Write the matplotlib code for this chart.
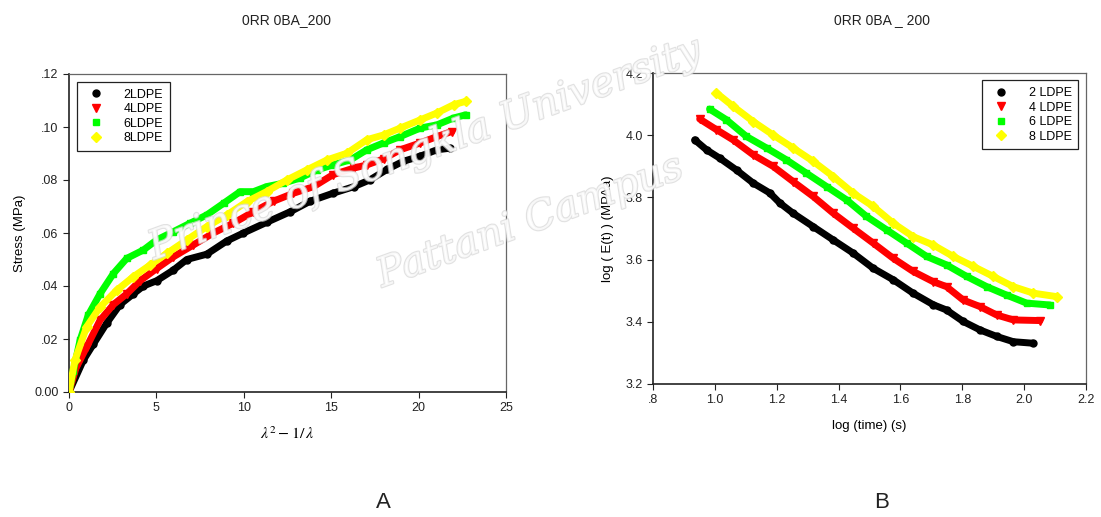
import matplotlib
matplotlib.use("Agg")
import matplotlib.pyplot as plt
import matplotlib.patheffects as pe
from matplotlib.ticker import FuncFormatter

plt.rcParams['font.family'] = ['Liberation Sans', 'DejaVu Sans']
plt.rcParams['mathtext.fontset'] = 'stix'

# ---- Panel A data: stress vs lambda^2 - 1/lambda ----
a_labels = ["2LDPE", "4LDPE", "6LDPE", "8LDPE"]
a_x_2 = [0, 0.82, 1.39, 2.16, 2.92, 3.68, 4.26, 5.02, 5.97, 6.74, 7.88, 9.03, 9.98, 11.3, 12.65, 13.8, 15.1, 16.3, 17.2, 18.2, 19.1, 20.1, 21.05, 21.8]
a_y_2 = [0, 0.012, 0.018, 0.026, 0.033, 0.037, 0.040, 0.042, 0.046, 0.050, 0.052, 0.057, 0.060, 0.064, 0.068, 0.072, 0.075, 0.0775, 0.080, 0.084, 0.087, 0.089, 0.0914, 0.092]
a_x_4 = [0, 0.4, 1.01, 1.77, 2.54, 3.3, 4.07, 5.02, 5.97, 7.12, 8.26, 9.4, 10.55, 11.7, 12.84, 13.99, 15.1, 16.3, 17.04, 18.0, 18.95, 20.1, 21.05, 21.9]
a_y_4 = [0, 0.009, 0.017, 0.027, 0.033, 0.037, 0.042, 0.0466, 0.051, 0.0555, 0.060, 0.0637, 0.068, 0.072, 0.075, 0.0775, 0.082, 0.0845, 0.0857, 0.088, 0.0914, 0.094, 0.0964, 0.0983]
a_x_6 = [0, 0.25, 0.63, 1.1, 1.77, 2.54, 3.3, 4.26, 5.02, 5.97, 6.93, 7.88, 8.84, 9.79, 10.55, 11.3, 12.27, 13.2, 14.2, 15.1, 16.1, 17.04, 18.0, 18.95, 20.1, 21.05, 22.0, 22.7]
a_y_6 = [0, 0.008, 0.0195, 0.029, 0.037, 0.0447, 0.0504, 0.0536, 0.0574, 0.0605, 0.0637, 0.0668, 0.0712, 0.0756, 0.0756, 0.0775, 0.0788, 0.0807, 0.0838, 0.0857, 0.0876, 0.0914, 0.094, 0.0964, 0.0996, 0.1008, 0.1034, 0.1046]
a_x_8 = [0, 0.34, 1.01, 1.77, 2.73, 3.68, 4.64, 5.6, 6.74, 7.88, 9.03, 10.17, 11.3, 12.46, 13.6, 14.77, 15.9, 17.04, 18.0, 18.95, 20.1, 21.05, 22.0, 22.7]
a_y_8 = [0, 0.012, 0.0246, 0.032, 0.0384, 0.0435, 0.0479, 0.0523, 0.0574, 0.0624, 0.0668, 0.0718, 0.0756, 0.080, 0.0838, 0.0876, 0.0901, 0.0952, 0.097, 0.0996, 0.1027, 0.1053, 0.1084, 0.1097]

# ---- Panel B data: log E(t) vs log time ----
b_labels = ["2 LDPE", "4 LDPE", "6 LDPE", "8 LDPE"]
b_x_2 = [0.935, 0.973, 1.016, 1.07, 1.124, 1.178, 1.21, 1.253, 1.318, 1.383, 1.447, 1.512, 1.577, 1.641, 1.706, 1.749, 1.803, 1.857, 1.911, 1.965, 2.03]
b_y_2 = [3.985, 3.953, 3.926, 3.888, 3.846, 3.814, 3.782, 3.749, 3.706, 3.663, 3.621, 3.572, 3.535, 3.492, 3.455, 3.438, 3.401, 3.374, 3.353, 3.336, 3.331]
b_x_4 = [0.951, 1.005, 1.059, 1.124, 1.188, 1.253, 1.318, 1.383, 1.447, 1.512, 1.577, 1.641, 1.706, 1.749, 1.803, 1.857, 1.911, 1.965, 2.051]
b_y_4 = [4.052, 4.018, 3.985, 3.937, 3.900, 3.851, 3.803, 3.749, 3.701, 3.653, 3.604, 3.562, 3.529, 3.513, 3.470, 3.449, 3.422, 3.406, 3.404]
b_x_6 = [0.983, 1.037, 1.102, 1.167, 1.231, 1.296, 1.361, 1.426, 1.49, 1.555, 1.62, 1.685, 1.749, 1.814, 1.879, 1.943, 2.008, 2.084]
b_y_6 = [4.084, 4.050, 3.996, 3.959, 3.921, 3.878, 3.835, 3.792, 3.739, 3.696, 3.653, 3.610, 3.583, 3.546, 3.513, 3.486, 3.460, 3.454]
b_x_8 = [1.005, 1.059, 1.124, 1.188, 1.253, 1.318, 1.383, 1.447, 1.512, 1.577, 1.641, 1.706, 1.771, 1.836, 1.9, 1.965, 2.03, 2.105]
b_y_8 = [4.136, 4.093, 4.044, 4.001, 3.959, 3.916, 3.867, 3.814, 3.771, 3.717, 3.674, 3.647, 3.610, 3.578, 3.546, 3.513, 3.492, 3.481]

colors = ["#000000", "#ff0000", "#00ff00", "#ffff00"]
markers = ["o", "v", "s", "D"]
msizes = [5, 6, 5, 5]

W, H = 1101, 517
fig = plt.figure(figsize=(W / 100, H / 100), dpi=100)

def style_axes(ax):
    for s in ["left", "bottom"]:
        ax.spines[s].set_color("#222222")
        ax.spines[s].set_linewidth(1.2)
    for s in ["top", "right"]:
        ax.spines[s].set_color("#666666")
        ax.spines[s].set_linewidth(0.9)
    ax.tick_params(direction="out", length=4, width=0.8, labelsize=9, colors="#222222")

def draw_series(ax, data, order):
    for i in order:
        x, y = data[i]
        ax.plot(x, y, color=colors[i], lw=5, solid_capstyle="round", zorder=2 + i)
        ax.plot(x, y, ls="none", marker=markers[i], ms=msizes[i], color=colors[i], zorder=2 + i)

def add_legend(ax, labels, loc, anchor):
    handles = []
    for i in range(4):
        h, = ax.plot([], [], ls="none", marker=markers[i], ms=msizes[i], color=colors[i], label=labels[i])
        handles.append(h)
    leg = ax.legend(handles=handles, loc=loc, fontsize=9, frameon=True, fancybox=False,
                    edgecolor="#222222", handletextpad=1.2, borderpad=0.55, labelspacing=0.2,
                    bbox_to_anchor=anchor, framealpha=1)
    leg.get_frame().set_linewidth(0.9)
    leg.set_zorder(20)

# Panel A
axA = fig.add_axes([69 / W, 1 - 392 / H, (506 - 69) / W, (392 - 74) / H])
A = [(a_x_2, a_y_2), (a_x_4, a_y_4), (a_x_6, a_y_6), (a_x_8, a_y_8)]
draw_series(axA, A, [0, 1, 3, 2])
add_legend(axA, a_labels, "upper left", (0.003, 0.995))
axA.set_xlim(0, 25)
axA.set_ylim(0, 0.12)
axA.set_xticks([0, 5, 10, 15, 20, 25])
axA.set_yticks([0, 0.02, 0.04, 0.06, 0.08, 0.10, 0.12])
axA.yaxis.set_major_formatter(FuncFormatter(lambda v, p: "0.00" if abs(v) < 1e-9 else ("%.2f" % v)[1:]))
axA.set_ylabel("Stress (MPa)", fontsize=9.5, labelpad=6)
axA.set_xlabel(r"$\lambda^2 - 1/\,\lambda$", fontsize=11.5, labelpad=8)
style_axes(axA)

# Panel B
axB = fig.add_axes([653 / W, 1 - 384 / H, (1086 - 653) / W, (384 - 73) / H])
B = [(b_x_2, b_y_2), (b_x_4, b_y_4), (b_x_6, b_y_6), (b_x_8, b_y_8)]
draw_series(axB, B, [0, 1, 2, 3])
add_legend(axB, b_labels, "upper right", (0.997, 0.997))
axB.set_xlim(0.8, 2.2)
axB.set_ylim(3.2, 4.2)
axB.set_xticks([0.8, 1.0, 1.2, 1.4, 1.6, 1.8, 2.0, 2.2])
axB.set_yticks([3.2, 3.4, 3.6, 3.8, 4.0, 4.2])
axB.xaxis.set_major_formatter(FuncFormatter(lambda v, p: ".8" if abs(v - 0.8) < 1e-9 else "%.1f" % v))
axB.yaxis.set_major_formatter(FuncFormatter(lambda v, p: "%.1f" % v))
axB.set_ylabel("log ( E(t) ) (MPAa)", fontsize=9.5, labelpad=8)
axB.set_xlabel("log (time) (s)", fontsize=9.5, labelpad=10)
style_axes(axB)

# Titles and panel letters
fig.text(286 / W, 1 - 20 / H, "0RR 0BA_200", ha="center", va="center", fontsize=10, color="#222222")
fig.text(882 / W, 1 - 20 / H, "0RR 0BA _ 200", ha="center", va="center", fontsize=10, color="#222222")
fig.text(383 / W, 1 - 503 / H, "A", ha="center", va="center", fontsize=16, color="#222222")
fig.text(882 / W, 1 - 503 / H, "B", ha="center", va="center", fontsize=16, color="#222222")

# Watermark (faint outlined script)
wm = [pe.withStroke(linewidth=1.6, foreground="#d8d8d8")]
fig.text(425 / W, 1 - 150 / H, "Prince of Songkla University", ha="center", va="center",
         fontsize=29, family="DejaVu Serif", style="italic", color="white", alpha=0.75,
         rotation=20, path_effects=wm, zorder=10)
fig.text(530 / W, 1 - 222 / H, "Pattani Campus", ha="center", va="center",
         fontsize=29, family="DejaVu Serif", style="italic", color="white", alpha=0.75,
         rotation=20, path_effects=wm, zorder=10)

fig.savefig("out.png", dpi=100)
